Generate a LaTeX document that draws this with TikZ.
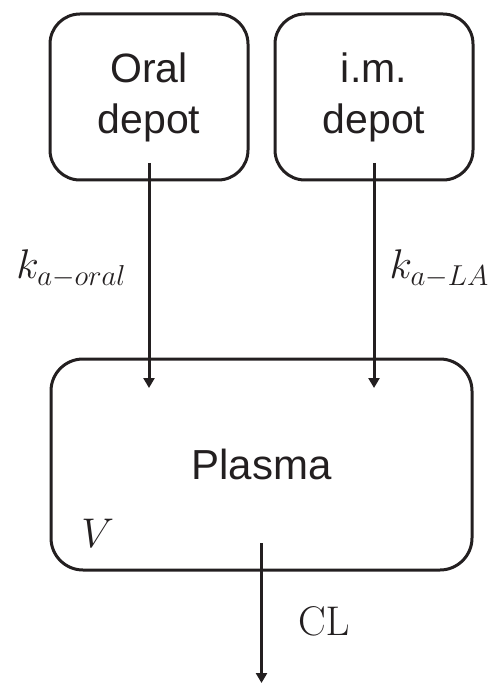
\documentclass[tikz,border=0pt]{standalone}
\usepackage[no-math]{fontspec}
\setmainfont{Liberation Sans}
\usepackage{tikz}
\usetikzlibrary{positioning,arrows.meta,calc}
\usepackage{xcolor}
\definecolor{inkgray}{RGB}{35,31,32}

\begin{document}
\begin{tikzpicture}[
    node distance=13.5pt and 13.5pt,
    depot/.style={rectangle, draw=inkgray, line width=1.5pt, rounded corners=15pt, minimum width=99pt, minimum height=83pt, align=center, inner sep=0pt, outer sep=0pt, text=inkgray, font=\fontsize{20.5}{25.5}\selectfont},
    compartment/.style={rectangle, draw=inkgray, line width=1.5pt, rounded corners=16pt, minimum width=210.5pt, minimum height=105.5pt, align=center, inner sep=0pt, outer sep=0pt, text=inkgray, font=\fontsize{21}{25}\selectfont},
    line/.style={draw=inkgray, line width=1.5pt, -{Triangle[length=5pt,width=5.5pt]}},
    rate/.style={inner sep=0pt, text=inkgray, font=\fontsize{20}{24}\selectfont}
]
    \useasboundingbox (0,0) rectangle (244pt,-342pt);

    \node [depot] (oral) at (74.5pt,-48.5pt) {Oral\\depot};
    \node [depot, right=of oral] (im) {i.m.\\depot};
    \coordinate (mid) at ($(oral.south)!0.5!(im.south)$);
    \node [compartment, below=89.5pt of mid] (plasma) {Plasma};
    \node [rate, anchor=south west] (vol) at ([xshift=15pt,yshift=11pt]plasma.south west) {$V$};

    % flows in and out of the plasma
    \coordinate (oralout) at ([yshift=8.5pt]oral.south);
    \coordinate (imout) at ([yshift=8.5pt]im.south);
    \coordinate (oralin) at ($(oralout |- plasma.north)+(0,-14.5pt)$);
    \coordinate (imin) at ($(imout |- plasma.north)+(0,-14.5pt)$);
    \coordinate (plasmaout) at ([yshift=13.5pt]plasma.south);
    \coordinate (sink) at ($(plasma.south)+(0,-56.5pt)$);

    \path [line] (oralout) -- node[rate, left=10.5pt, pos=0.47] {$k_{a-oral}$} (oralin);
    \path [line] (imout) -- node[rate, right=7pt, pos=0.47] {$k_{a-LA}$} (imin);
    \path [line] (plasmaout) -- node[rate, right=17.5pt, pos=0.56] {$\mathrm{CL}$} (sink);
\end{tikzpicture}
\end{document}
